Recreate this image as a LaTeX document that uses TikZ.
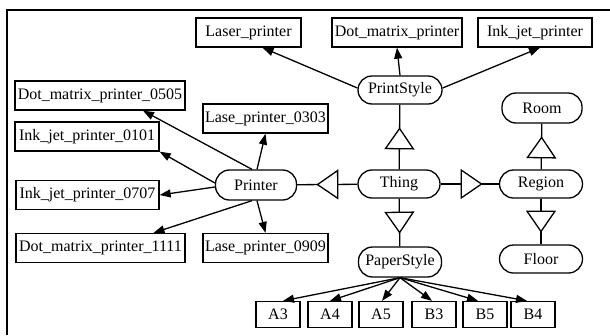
\documentclass[tikz,border=0pt]{standalone}
\usepackage{fontspec}
\setmainfont{Liberation Serif}
\usetikzlibrary{arrows.meta,decorations.markings}
\begin{document}
\begin{tikzpicture}[x=1pt,y=-1pt,
  lbl/.style={font=\fontsize{16}{19}\selectfont},
  box/.style={lbl,draw,line width=1.3pt,rectangle,minimum height=29pt,inner xsep=2pt,inner ysep=0pt},
  pbox/.style={lbl,draw,line width=1.3pt,rectangle,minimum height=26pt,minimum width=44pt,inner sep=0pt},
  cls/.style={lbl,draw,line width=1.3pt,rounded corners=14pt,minimum height=28pt,minimum width=82pt,inner sep=0pt},
  arr/.style={line width=1.3pt,-{Triangle[length=11pt,width=8pt]}},
  isa/.style={line width=1.3pt,postaction={decorate},
    decoration={markings,mark=at position #1 with {\arrow{Triangle[length=22pt,width=30pt,fill=white,line width=1.3pt]}}}},
]
\useasboundingbox (0,0) rectangle (610,335);
\draw[line width=1.6pt] (7,335) -- (7,10) -- (610,10);

% top printer types
\node[box,minimum width=105pt] (laser) at (248.5,32.5) {Laser\_printer};
\node[box,minimum width=130pt] (dotm) at (397,32.5) {Dot\_matrix\_printer};
\node[box,minimum width=114pt] (inkj) at (535,32.5) {Ink\_jet\_printer};

% class nodes
\node[cls,minimum width=84pt] (ps) at (400,90) {PrintStyle};
\node[cls,minimum width=80pt,minimum height=30pt] (room) at (542,108) {Room};
\node[cls] (thing) at (399,184) {Thing};
\node[cls,minimum width=83pt] (region) at (541,184) {Region};
\node[cls,minimum width=83pt] (floor) at (541,259) {Floor};
\node[cls,minimum width=81pt,minimum height=30pt] (printer) at (256,185) {Printer};
\node[cls,minimum width=83pt,minimum height=30pt] (paper) at (400,262) {PaperStyle};

% printer instances
\node[box,minimum width=170pt] (d0505) at (100,95.5) {Dot\_matrix\_printer\_0505};
\node[box,minimum width=125pt] (l0303) at (265.5,118.5) {Lase\_printer\_0303};
\node[box,minimum width=144pt] (i0101) at (87,136.5) {Ink\_jet\_printer\_0101};
\node[box,minimum width=143pt] (i0707) at (87.5,195) {Ink\_jet\_printer\_0707};
\node[box,minimum width=169pt] (d1111) at (100.5,248) {Dot\_matrix\_printer\_1111};
\node[box,minimum width=125pt] (l0909) at (265.5,248) {Lase\_printer\_0909};

% paper sizes
\node[pbox] (a3) at (278,314.5) {A3};
\node[pbox] (a4) at (330,314.5) {A4};
\node[pbox] (a5) at (381,314.5) {A5};
\node[pbox] (b3) at (434,314.5) {B3};
\node[pbox] (b5) at (485,314.5) {B5};
\node[pbox] (b4) at (533,314.5) {B4};

% is-a links
\draw[isa=42pt] (thing) -- (ps);
\draw[isa=41pt] (thing) -- (printer);
\draw[isa=42pt] (thing) -- (region);
\draw[isa=35pt] (thing) -- (paper);
\draw[isa=33pt] (region) -- (room);
\draw[isa=34pt] (region) -- (floor);

% PrintStyle instances
\draw[arr] ([yshift=2pt]ps.west) -- ([xshift=14pt]laser.south);
\draw[arr] (ps.north) -- (dotm.south);
\draw[arr] ([yshift=2pt]ps.east) -- ([xshift=5pt]inkj.south);

% Printer instances
\draw[arr] ([xshift=-4pt]printer.north) -- ([xshift=43pt]d0505.south);
\draw[arr] ([xshift=1pt]printer.north) -- (l0303.south);
\draw[arr] ([yshift=2pt]printer.west) -- (i0101.south east);
\draw[arr] ([yshift=-2pt]printer.west) -- (i0707.east);
\draw[arr] ([xshift=-4pt]printer.south) -- ([xshift=53pt]d1111.north);
\draw[arr] ([xshift=1pt]printer.south) -- (l0909.north);

% PaperStyle instances
\draw[arr] (paper.south) -- ([xshift=5pt]a3.north);
\draw[arr] (paper.south) -- (a4.north);
\draw[arr] (paper.south) -- ([xshift=1pt]a5.north);
\draw[arr] (paper.south) -- ([xshift=-2pt]b3.north);
\draw[arr] (paper.south) -- ([xshift=-7pt]b5.north);
\draw[arr] (paper.south) -- ([xshift=-6pt]b4.north);
\end{tikzpicture}
\end{document}
